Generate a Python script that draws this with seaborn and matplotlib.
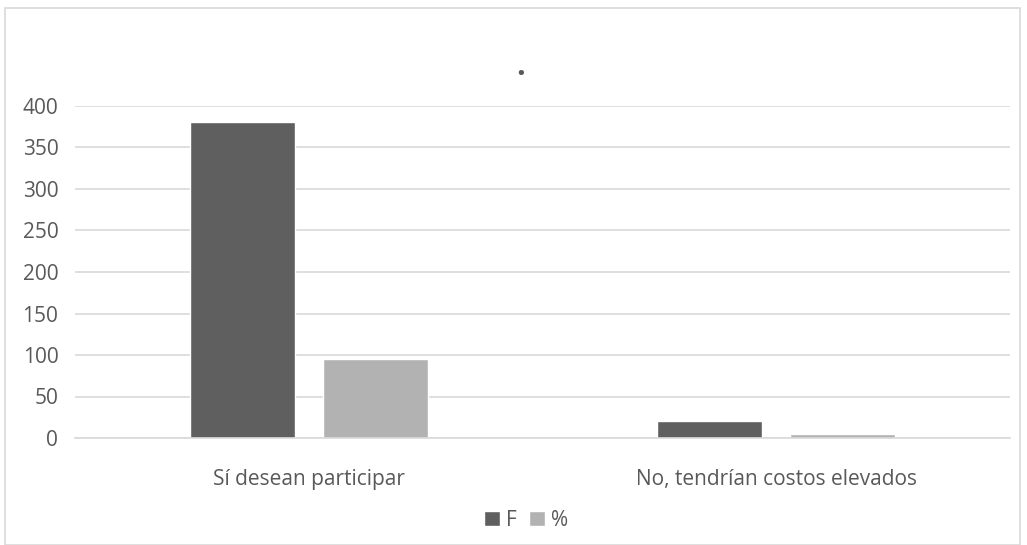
import pandas as pd
import matplotlib.pyplot as plt
import seaborn as sns
from matplotlib.patches import Rectangle

# Data
categorias = ['Sí desean participar', 'No, tendrían costos elevados']
frecuencia = [381, 20]
porcentaje = [95, 5]

df = pd.DataFrame({
    'categoria': categorias * 2,
    'serie': ['F'] * len(categorias) + ['%'] * len(categorias),
    'valor': frecuencia + porcentaje,
})

sns.set_theme(style='white')
plt.rcParams['font.family'] = ['Open Sans', 'DejaVu Sans']

fig = plt.figure(figsize=(10.27, 5.45), dpi=100)
ax = fig.add_axes([75 / 1027, 107 / 545, 935 / 1027, 332 / 545])

sns.barplot(data=df, x='categoria', y='valor', hue='serie',
            palette={'F': '#5f5f5f', '%': '#b2b2b2'},
            width=0.57, gap=0.21, saturation=1, ax=ax, legend=True)

ax.set_xlim(-0.5, 1.5)
ax.set_ylim(0, 400)
ax.set_yticks(range(0, 401, 50))
ax.yaxis.grid(True, color='#d9d9d9', linewidth=1.2)
ax.set_axisbelow(True)
for s in ['top', 'right', 'left']:
    ax.spines[s].set_visible(False)
ax.spines['bottom'].set_color('#d9d9d9')
ax.spines['bottom'].set_linewidth(1.2)
ax.tick_params(axis='y', length=0, pad=12, labelsize=15, labelcolor='#595959')
ax.tick_params(axis='x', length=0, pad=22, labelsize=15, labelcolor='#595959')
ax.set_xlabel('')
ax.set_ylabel('')

# title is just a dot
fig.text(521 / 1027, 1 - 75 / 545, '.', fontsize=22, fontweight='bold',
         color='#595959', ha='center', va='baseline')

handles, labels = ax.get_legend_handles_labels()
ax.get_legend().remove()
fig.legend(handles, labels, loc='center', bbox_to_anchor=(526 / 1027, 1 - 520 / 545),
           ncol=2, frameon=False, fontsize=15, labelcolor='#595959',
           handlelength=0.75, handleheight=0.75, handletextpad=0.3, columnspacing=0.6)

# outer chart border
fig.patches.append(Rectangle((5 / 1027, 0), 1015 / 1027, 537 / 545, transform=fig.transFigure,
                             fill=False, edgecolor='#d9d9d9', linewidth=1.2))

fig.savefig('out.png', dpi=100, facecolor='white')
